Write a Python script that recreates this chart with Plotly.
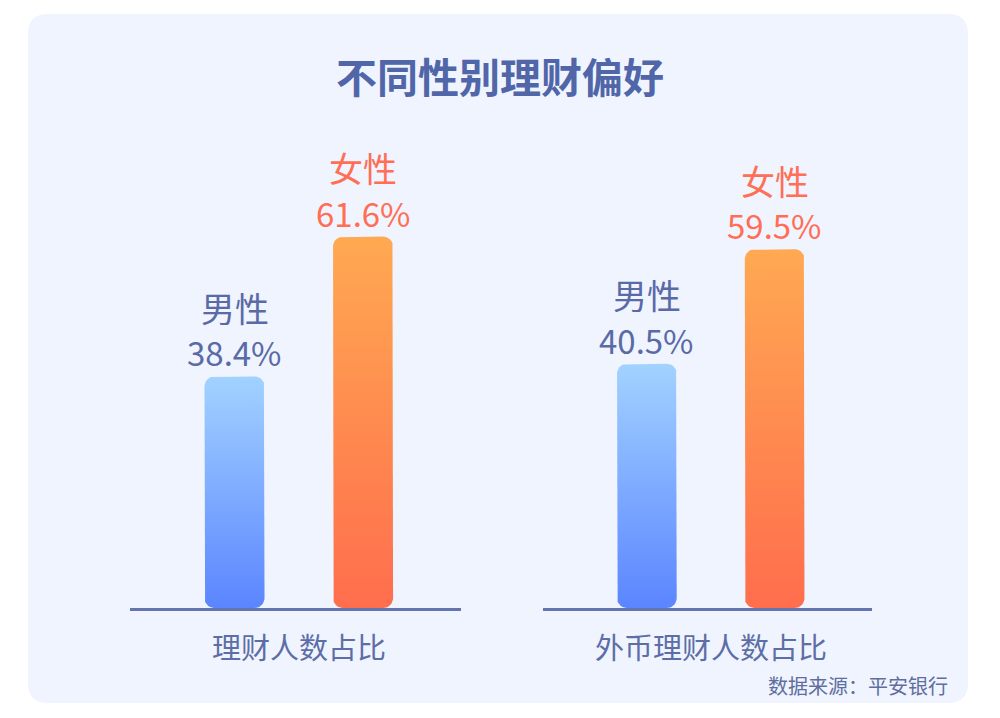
import numpy as np
import plotly.graph_objects as go

# ---- data ----
groups = ["理财人数占比", "外币理财人数占比"]
genders = ["男性", "女性"]
male_values = [38.4, 40.5]
female_values = [61.6, 59.5]
title_text = "不同性别理财偏好"
source_text = "数据来源：平安银行"

FONT = "Noto Sans CJK SC"
W, H = 1000, 718
PX_PER_X = 128.5          # pixels per x unit
PX_PER_Y = 6.03           # pixels per y unit
BAR_W = 60 / PX_PER_X
RAD_PX = 10

male_scale = [[0, "#5B85FF"], [1, "#A2D2FF"]]
female_scale = [[0, "#FF6D4D"], [1, "#FFA952"]]
male_text = "#5A6AA6"
female_text = "#FF6E55"


def rounded_bar(cx, h, w, rx, ry, n=10):
    x0, x1 = cx - w / 2, cx + w / 2
    centers = [(x1 - rx, ry, -90, 0), (x1 - rx, h - ry, 0, 90),
               (x0 + rx, h - ry, 90, 180), (x0 + rx, ry, 180, 270)]
    xs, ys = [], []
    for ccx, ccy, a0, a1 in centers:
        t = np.radians(np.linspace(a0, a1, n))
        xs.extend(ccx + rx * np.cos(t))
        ys.extend(ccy + ry * np.sin(t))
    xs.append(xs[0]); ys.append(ys[0])
    return xs, ys


fig = go.Figure()

domains = [[0.130, 0.461], [0.543, 0.872]]
xrange_ = [-0.813, 1.762]
ydom = [1 - 608 / H, 1 - 5 / H]

annotations = []
rx = RAD_PX / PX_PER_X
ry = RAD_PX / PX_PER_Y
for gi, grp in enumerate(groups):
    xa = "x" if gi == 0 else "x2"
    ya = "y" if gi == 0 else "y2"
    vals = [male_values[gi], female_values[gi]]
    scales = [male_scale, female_scale]
    tcols = [male_text, female_text]
    for bi, v in enumerate(vals):
        xs, ys = rounded_bar(bi, v, BAR_W, rx, ry)
        fig.add_trace(go.Scatter(
            x=xs, y=ys, xaxis=xa, yaxis=ya, mode="lines",
            line=dict(width=0), fill="toself",
            fillgradient=dict(type="vertical", colorscale=scales[bi],
                              start=0, stop=v),
            hoverinfo="skip", showlegend=False))
        annotations.append(dict(
            xref=xa, yref=ya, x=bi, y=v, text=f"{v}%", showarrow=False,
            yanchor="middle", yshift=24,
            font=dict(family=FONT, size=33, color=tcols[bi])))
        annotations.append(dict(
            xref=xa, yref=ya, x=bi, y=v, text=genders[bi], showarrow=False,
            yanchor="middle", yshift=69,
            font=dict(family=FONT, size=34, color=tcols[bi])))
    annotations.append(dict(
        xref=xa, yref="paper", x=0.5, y=1 - 646 / H, text=grp,
        showarrow=False, yanchor="middle",
        font=dict(family=FONT, size=29, color="#5D6DA6")))

annotations.append(dict(
    xref="paper", yref="paper", x=0.5, y=1 - 75 / H, text=f"<b>{title_text}</b>",
    showarrow=False, yanchor="middle",
    font=dict(family=FONT, size=41, color="#5066A8")))
annotations.append(dict(
    xref="paper", yref="paper", x=950 / W, y=1 - 685 / H, text=source_text,
    showarrow=False, xanchor="right", yanchor="middle",
    font=dict(family=FONT, size=20, color="#5F6E9E")))

# rounded background panel
x0, x1, y0, y1 = 28 / W, 968 / W, 1 - 703 / H, 1 - 14 / H
r = 20
rxp, ryp = r / W, r / H
panel_path = (f"M {x0+rxp},{y1} L {x1-rxp},{y1} Q {x1},{y1} {x1},{y1-ryp} "
              f"L {x1},{y0+ryp} Q {x1},{y0} {x1-rxp},{y0} "
              f"L {x0+rxp},{y0} Q {x0},{y0} {x0},{y0+ryp} "
              f"L {x0},{y1-ryp} Q {x0},{y1} {x0+rxp},{y1} Z")

axis_common = dict(range=xrange_, showgrid=False, zeroline=False,
                   showticklabels=False, ticks="", showline=True,
                   linecolor="#6474AE", linewidth=3, fixedrange=True)
yaxis_common = dict(range=[0, 100], domain=ydom, visible=False,
                    showgrid=False, zeroline=False, fixedrange=True)

fig.update_layout(
    width=W, height=H, margin=dict(l=0, r=0, t=0, b=0),
    paper_bgcolor="white", plot_bgcolor="rgba(0,0,0,0)",
    xaxis=dict(domain=domains[0], anchor="y", **axis_common),
    xaxis2=dict(domain=domains[1], anchor="y2", **axis_common),
    yaxis=dict(anchor="x", **yaxis_common),
    yaxis2=dict(anchor="x2", **yaxis_common),
    shapes=[dict(type="path", path=panel_path, xref="paper", yref="paper",
                 fillcolor="#EFF4FE", line=dict(width=0), layer="below")],
    annotations=annotations,
    font=dict(family=FONT),
)

fig.write_html("out.html", config={"displayModeBar": False},
               post_script="document.body.style.margin='0';")
